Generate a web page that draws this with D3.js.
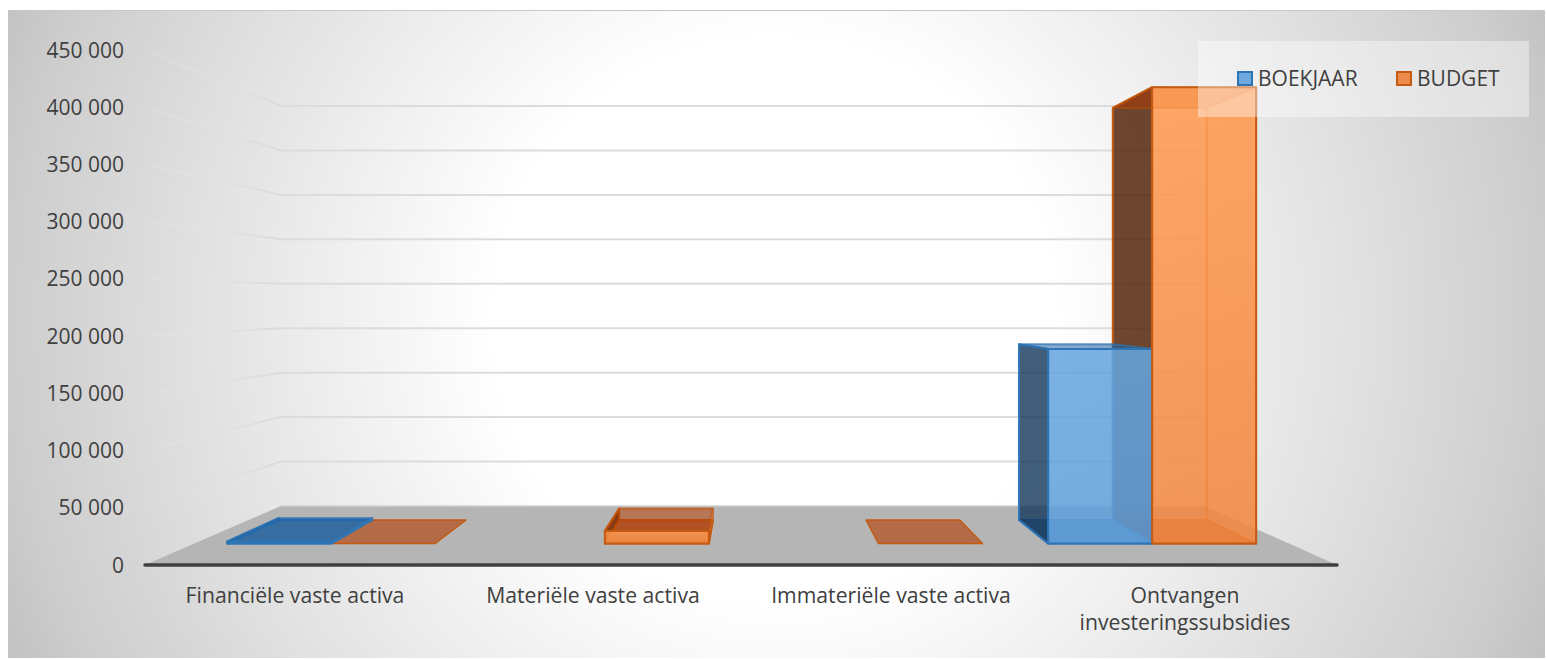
<!DOCTYPE html>
<html><head><meta charset="utf-8">
<script src="https://cdn.jsdelivr.net/npm/d3@7"></script>
<style>html,body{margin:0;padding:0;background:#fff}svg{display:block}text{font-family:"Open Sans",sans-serif;fill:#404040}</style>
</head><body><svg id="c" width="1546" height="659"></svg>
<script>
const categories=[["Financiële vaste activa"],["Materiële vaste activa"],["Immateriële vaste activa"],["Ontvangen","investeringssubsidies"]];
const boekjaar=[2000,null,null,185000];
const budget=[0,12000,0,434000];
const tickValues=[0,50000,100000,150000,200000,250000,300000,350000,400000,450000];
const seriesNames=["BOEKJAAR","BUDGET"];

const svg=d3.select("#c");
const fmt=d3.formatLocale({decimal:",",thousands:" ",grouping:[3],currency:["",""]}).format(",d");
const defs=svg.append("defs");
const bg=defs.append("radialGradient").attr("id","bg").attr("gradientUnits","userSpaceOnUse")
 .attr("cx",775).attr("cy",320).attr("r",850);
[[0,"#fff"],[.33,"#fff"],[.67,"#e2e2e2"],[.9,"#cdcdcd"],[1,"#c0c0c0"]].forEach(s=>bg.append("stop").attr("offset",s[0]).attr("stop-color",s[1]));
const side=defs.append("linearGradient").attr("id","side").attr("x1",0).attr("x2",1).attr("y1",0).attr("y2",0);
side.append("stop").attr("offset",0).attr("stop-color","#eaeaea").attr("stop-opacity",.15);
side.append("stop").attr("offset",1).attr("stop-color","#dadada").attr("stop-opacity",1);
[["frontS0","#65a5de","#5f9fdb"],["frontS1","#ff9a50","#f28640"]].forEach(g=>{
  const lg=defs.append("linearGradient").attr("id",g[0]).attr("x1",0).attr("x2",0).attr("y1",0).attr("y2",1);
  lg.append("stop").attr("offset",0).attr("stop-color",g[1]);
  lg.append("stop").attr("offset",1).attr("stop-color",g[2]);
});

svg.append("rect").attr("x",8).attr("y",10).attr("width",1537).attr("height",648).attr("fill","url(#bg)");
svg.append("line").attr("x1",8).attr("x2",1545).attr("y1",10.5).attr("y2",10.5).attr("stroke","#c8c8c8");

// depth d: 0 = front of the floor, 1 = back wall
const yZero=d3.scaleLinear().domain([0,1]).range([565,506]);
const yUnit=d3.scaleLinear().domain([0,1]).range([515/450000,400/450000]);
const xL=d3.scaleLinear().domain([0,1]).range([145,281]);
const xR=d3.scaleLinear().domain([0,1]).range([1337,1205]);
const project=(band,v,d)=>{ // band position in 0..4
  const x=d3.scaleLinear().domain([0,categories.length]).range([xL(d),xR(d)])(band);
  return [x,yZero(d)-v*yUnit(d)];
};
const P=pts=>pts.map(p=>p.join(",")).join(" ");

// floor
svg.append("polygon").attr("points",P([[xL(0),yZero(0)],[xL(1),yZero(1)],[xR(1),yZero(1)],[xR(0),yZero(0)]])).attr("fill","#b5b5b5");
svg.append("line").attr("x1",xL(1)).attr("x2",xR(1)).attr("y1",yZero(1)).attr("y2",yZero(1)).attr("stroke","#d0d0d0").attr("stroke-width",1.5);

// grid
tickValues.forEach(v=>{
  if(v>0){
    svg.append("line").attr("x1",xL(1)).attr("x2",xR(1)).attr("y1",yZero(1)-v*yUnit(1)).attr("y2",yZero(1)-v*yUnit(1)).attr("stroke","#dcdcdc").attr("stroke-width",2);
    svg.append("polygon").attr("points",P([[xL(0),yZero(0)-v*yUnit(0)-1],[xL(1),yZero(1)-v*yUnit(1)-1],[xL(1),yZero(1)-v*yUnit(1)+1],[xL(0),yZero(0)-v*yUnit(0)+1]])).attr("fill","url(#side)");
  }
  svg.append("text").attr("x",124).attr("y",yZero(0)-v*yUnit(0)).attr("dy",".36em").attr("text-anchor","end").attr("font-size",21).text(fmt(v));
});

// axis
svg.append("line").attr("x1",xL(0)).attr("x2",xR(0)).attr("y1",565).attr("y2",565).attr("stroke","#404040").attr("stroke-width",3.5).attr("stroke-linecap","round");

categories.forEach((c,i)=>{
  const cx=(xL(0)+xR(0))/2+(i+.5-categories.length/2)*(xR(0)-xL(0))/categories.length;
  const t=svg.append("text").attr("x",i==3?cx-3:cx+1).attr("y",603).attr("text-anchor","middle").attr("font-size",21.2);
  c.forEach((s,k)=>t.append("tspan").attr("x",i==3?cx-3:cx+1).attr("dy",k?27:0).text(s));
});

// bars
const D1=.364,D2=.763,gap=.12,bw=(1-2*gap)/2;
const pal=[
 {line:"#2e75b6",front:"url(#frontS0)",back:"#5b9bd5",left:"#14375a",right:"#5b9bd5",bottom:"#195c9d",top:"#195c9d"},
 {line:"#c55a11",front:"url(#frontS1)",back:"#f58c42",left:"#4c1b00",right:"#f58c42",bottom:"#b23a00",top:"#b23a00"}];
const alpha={front:.85,left:.8,bottom:.6,back:.05,right:.15,top:.5};
function box(s,i,v,faces){
  const a=i+gap+s*bw,b=a+bw,c=pal[s];
  const q={
   bottom:[project(a,0,D1),project(b,0,D1),project(b,0,D2),project(a,0,D2)],
   back:[project(a,0,D2),project(b,0,D2),project(b,v,D2),project(a,v,D2)],
   left:[project(a,0,D1),project(a,0,D2),project(a,v,D2),project(a,v,D1)],
   right:[project(b,0,D1),project(b,0,D2),project(b,v,D2),project(b,v,D1)],
   top:[project(a,v,D1),project(b,v,D1),project(b,v,D2),project(a,v,D2)],
   front:[project(a,0,D1),project(b,0,D1),project(b,v,D1),project(a,v,D1)]};
  faces.filter(f=>v>0||f=="bottom").forEach(f=>{
    svg.append("polygon").attr("points",P(q[f])).attr("fill",c[f])
      .attr("fill-opacity",alpha[f])
      .attr("stroke",c.line).attr("stroke-opacity",f=="front"||f=="left"||f=="bottom"?1:.45)
      .attr("stroke-width",v>0?2:1.5).attr("stroke-linejoin","round");
  });
}
const drawSeries=(s,vals,faces)=>vals.forEach((v,i)=>{ if(v!==null) box(s,i,v,faces); });
drawSeries(1,budget,["bottom","back","left"]);
drawSeries(0,boekjaar,["bottom","back","left","right","top","front"]);
drawSeries(1,budget,["right","top","front"]);

// legend
svg.append("rect").attr("x",1198).attr("y",41).attr("width",331).attr("height",76).attr("fill","#fff").attr("fill-opacity",.4);
[[1238,seriesNames[0],0],[1397,seriesNames[1],1]].forEach(d=>{
  svg.append("rect").attr("x",d[0]).attr("y",72).attr("width",14).attr("height",13).attr("fill",d[2]?"#ed8b4c":"#6fa8dc").attr("stroke",pal[d[2]].line).attr("stroke-width",2);
  svg.append("text").attr("x",d[0]+20).attr("y",78.5).attr("dy",".36em").attr("font-size",21).text(d[1]);
});
</script></body></html>
